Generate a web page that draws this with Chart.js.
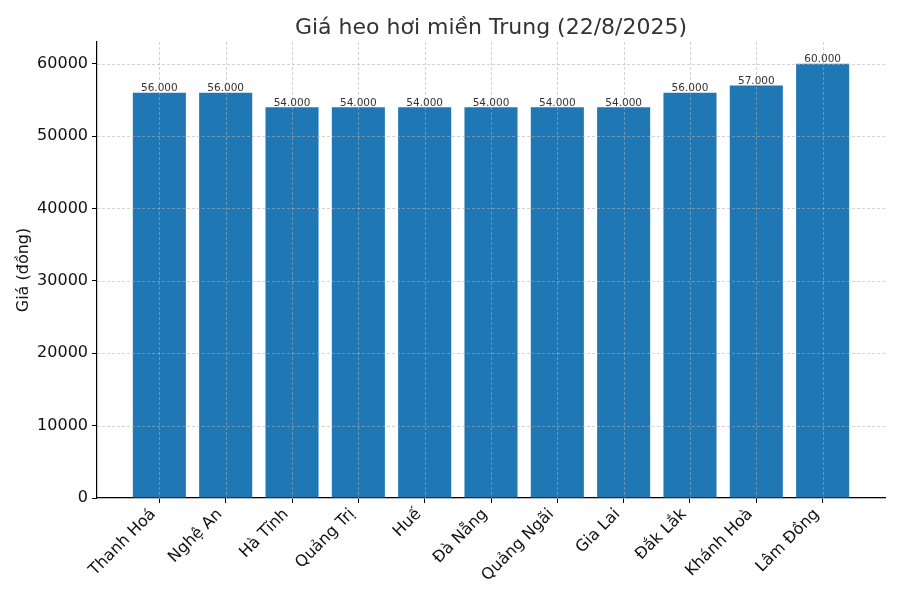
<!DOCTYPE html>
<html>
<head>
<meta charset="utf-8">
<script src="https://cdn.jsdelivr.net/npm/chart.js@4"></script>
<style>
  html, body { margin: 0; padding: 0; background: #fff; }
  #wrap { width: 900px; height: 600px; }
</style>
</head>
<body>
<div id="wrap"><canvas id="myChart" width="900" height="600"></canvas></div>
<script>
// data
const provinces = ['Thanh Hoá', 'Nghệ An', 'Hà Tĩnh', 'Quảng Trị', 'Huế', 'Đà Nẵng',
                   'Quảng Ngãi', 'Gia Lai', 'Đắk Lắk', 'Khánh Hoà', 'Lâm Đồng'];
const prices = [56000, 56000, 54000, 54000, 54000, 54000, 54000, 54000, 56000, 57000, 60000];
const yTicks = [0, 10000, 20000, 30000, 40000, 50000, 60000];
const titleText = 'Giá heo hơi miền Trung (22/8/2025)';

const FONT = "'DejaVu Sans', sans-serif";

// dotted format like 56.000
const fmt = v => String(v).replace(/\B(?=(\d{3})+(?!\d))/g, '.');

// grid over the bars + value labels + title (matplotlib look)
const overlay = {
  id: 'overlay',
  afterDatasetsDraw(chart) {
    const { ctx, chartArea: a, scales: { x, y } } = chart;
    ctx.save();
    ctx.strokeStyle = 'rgba(176,176,176,0.7)';
    ctx.lineWidth = 0.8;
    ctx.setLineDash([3, 2]);
    provinces.forEach((_, i) => {
      const px = Math.round(x.getPixelForValue(i)) + 0.5;
      ctx.beginPath(); ctx.moveTo(px, a.top); ctx.lineTo(px, a.bottom); ctx.stroke();
    });
    yTicks.forEach(t => {
      const py = Math.round(y.getPixelForValue(t)) + 0.5;
      ctx.beginPath(); ctx.moveTo(a.left, py); ctx.lineTo(a.right, py); ctx.stroke();
    });
    ctx.setLineDash([]);

    // value labels
    ctx.fillStyle = '#333';
    ctx.font = '10.5px ' + FONT;
    ctx.textAlign = 'center';
    ctx.textBaseline = 'bottom';
    chart.getDatasetMeta(0).data.forEach((bar, i) => {
      ctx.fillText(fmt(prices[i]), bar.x, bar.y + 1);
    });

    // title centred on the plot area
    ctx.fillStyle = '#333';
    ctx.font = '22px ' + FONT;
    ctx.textBaseline = 'alphabetic';
    ctx.fillText(titleText, (a.left + a.right) / 2, 34);
    ctx.restore();
  }
};

const ctx = document.getElementById('myChart').getContext('2d');

new Chart(ctx, {
  type: 'bar',
  data: {
    datasets: [{
      data: prices.map((p, i) => ({ x: i, y: p })),
      backgroundColor: '#1f77b4',
      borderWidth: 0,
      barPercentage: 0.8,
      categoryPercentage: 1.0
    }]
  },
  options: {
    responsive: false,
    animation: false,
    devicePixelRatio: 1,
    layout: { padding: { top: 42, right: 15, left: 0, bottom: 0 } },
    plugins: {
      legend: { display: false },
      title: { display: false },
      tooltip: { enabled: false }
    },
    scales: {
      x: {
        type: 'linear',
        min: -0.94,
        max: 10.94,
        offset: false,
        afterBuildTicks: s => { s.ticks = provinces.map((_, i) => ({ value: i })); },
        afterFit: s => { s.height = 102; },
        grid: { offset: false, drawOnChartArea: false, drawTicks: true, tickLength: 5, tickColor: '#000', tickWidth: 1 },
        border: { display: true, color: '#000', width: 1.2 },
        ticks: {
          autoSkip: false,
          minRotation: 45,
          maxRotation: 45,
          padding: 2,
          labelOffset: -6,
          color: '#111',
          font: { family: FONT, size: 16 },
          callback: v => provinces[v]
        }
      },
      y: {
        min: 0,
        max: 63000,
        afterBuildTicks: s => { s.ticks = yTicks.map(v => ({ value: v })); },
        afterFit: s => { s.width = 97; },
        grid: { drawOnChartArea: false, drawTicks: true, tickLength: 5, tickColor: '#000', tickWidth: 1 },
        border: { display: true, color: '#000', width: 1.2 },
        ticks: {
          padding: 4,
          color: '#111',
          font: { family: FONT, size: 16 },
          callback: v => String(v)
        },
        title: {
          display: true,
          text: 'Giá (đồng)',
          color: '#111',
          font: { family: FONT, size: 16 },
          padding: { top: 14, bottom: 0 }
        }
      }
    }
  },
  plugins: [overlay]
});
</script>
</body>
</html>
